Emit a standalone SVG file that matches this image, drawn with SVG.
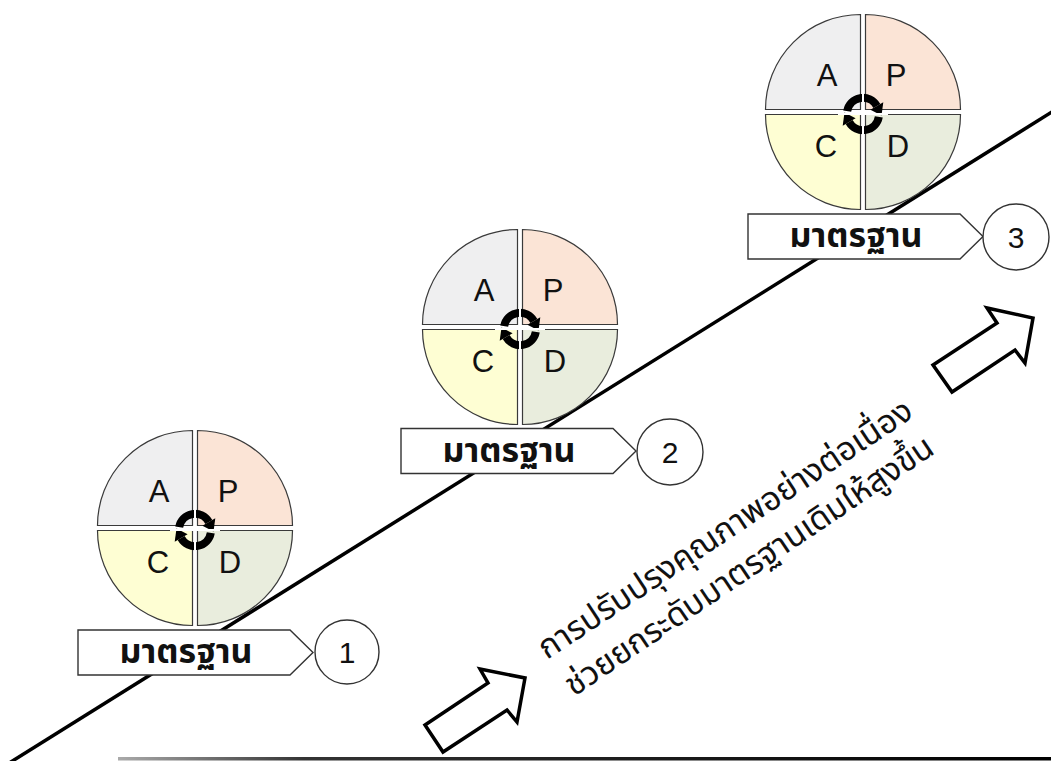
<svg xmlns="http://www.w3.org/2000/svg" xmlns:xlink="http://www.w3.org/1999/xlink" width="1051" height="761" viewBox="0 0 1051 761">
  <style>
    .q { stroke: #3a3a3a; stroke-width: 1.2; }
    .qa { fill: #efeff0; }
    .qp { fill: #fbe4d6; }
    .qc { fill: #fefed3; }
    .qd { fill: #e9eddd; }
    .letter { font-family: "Liberation Sans", Arial, sans-serif; font-size: 31px; fill: #111; text-anchor: middle; }
    .tag { fill: #fff; stroke: #333; stroke-width: 1.4; }
    .tag-text { font-family: "Noto Sans Thai", Tahoma, "Noto Sans", "DejaVu Sans", sans-serif; font-size: 34px; font-weight: bold; fill: #111; text-anchor: middle; }
    .num-ring { fill: #fff; stroke: #333; stroke-width: 1.4; }
    .num { font-family: "Liberation Sans", Arial, sans-serif; font-size: 30px; fill: #111; text-anchor: middle; }
    .slope { stroke: #000; stroke-width: 3.5; fill: none; }
    .block-arrow { fill: #fff; stroke: #000; stroke-width: 3.5; stroke-linejoin: miter; }
    .note { font-family: "Noto Sans Thai", Tahoma, "Noto Sans", "DejaVu Sans", sans-serif; font-size: 33px; fill: #111; }
  </style>
  <defs>
    <linearGradient id="baseGrad" x1="0" y1="0" x2="1" y2="0">
      <stop offset="0" stop-color="#aaa"/>
      <stop offset="0.2" stop-color="#333"/>
      <stop offset="1" stop-color="#000"/>
    </linearGradient>
    <!-- four PDCA quadrants, split by a narrow white cross -->
    <g id="wheel">
      <path class="q qa" d="M -2.5,-2.5 H -97.5 A 95 95 0 0 1 -2.5,-97.5 Z"/>
      <path class="q qp" d="M 2.5,-2.5 V -97.5 A 95 95 0 0 1 97.5,-2.5 Z"/>
      <path class="q qd" d="M 2.5,2.5 H 97.5 A 95 95 0 0 1 2.5,97.5 Z"/>
      <path class="q qc" d="M -2.5,2.5 V 97.5 A 95 95 0 0 1 -97.5,2.5 Z"/>
    </g>
    <!-- circular arrows in the hub -->
    <g id="cycle">
      <path d="M -15.8,-2.8 A 16 16 0 0 1 13.9,-8" fill="none" stroke="#000" stroke-width="8"/>
      <polygon points="20.3,-11.7 7.4,-4.3 18.5,1.5" fill="#000"/>
      <path d="M 15.8,2.8 A 16 16 0 0 1 -13.9,8" fill="none" stroke="#000" stroke-width="8"/>
      <polygon points="-20.3,11.7 -7.4,4.3 -18.5,-1.5" fill="#000"/>
      <line x1="0" y1="-25" x2="0" y2="25" stroke="#fff" stroke-width="2"/>
      <line x1="-25" y1="0" x2="25" y2="0" stroke="#fff" stroke-width="2"/>
    </g>
    <polygon id="tagShape" points="0,0 212,0 235,22.5 212,45 0,45"/>
  </defs>

  <!-- staircase slope and base line -->
  <g id="connectors">
    <line class="slope" x1="6" y1="765" x2="1055" y2="110"/>
    <rect x="118" y="757" width="933" height="3.5" fill="url(#baseGrad)"/>
  </g>

  <!-- PDCA wheel 1 -->
  <g id="pdca-1" transform="translate(195,528)">
    <use href="#wheel"/>
    <text class="letter" x="-36" y="-26">A</text>
    <text class="letter" x="33" y="-26">P</text>
    <text class="letter" x="-37" y="45">C</text>
    <text class="letter" x="35" y="45">D</text>
    <use href="#cycle" y="2"/>
  </g>

  <!-- PDCA wheel 2 -->
  <g id="pdca-2" transform="translate(520,327)">
    <use href="#wheel"/>
    <text class="letter" x="-36" y="-26">A</text>
    <text class="letter" x="33" y="-26">P</text>
    <text class="letter" x="-37" y="45">C</text>
    <text class="letter" x="35" y="45">D</text>
    <use href="#cycle" y="2"/>
  </g>

  <!-- PDCA wheel 3 -->
  <g id="pdca-3" transform="translate(863,112)">
    <use href="#wheel"/>
    <text class="letter" x="-36" y="-26">A</text>
    <text class="letter" x="33" y="-26">P</text>
    <text class="letter" x="-37" y="45">C</text>
    <text class="letter" x="35" y="45">D</text>
    <use href="#cycle" y="2"/>
  </g>

  <!-- standard tags -->
  <g id="standard-1">
    <use href="#tagShape" class="tag" x="78" y="630"/>
    <text class="tag-text" x="186" y="663">มาตรฐาน</text>
  </g>
  <g id="standard-2">
    <use href="#tagShape" class="tag" x="401" y="428.5"/>
    <text class="tag-text" x="509" y="461.5">มาตรฐาน</text>
  </g>
  <g id="standard-3">
    <use href="#tagShape" class="tag" x="748" y="214"/>
    <text class="tag-text" x="856" y="247">มาตรฐาน</text>
  </g>

  <!-- level numbers -->
  <g id="level-1">
    <circle class="num-ring" cx="347" cy="652" r="32"/>
    <text class="num" x="347" y="663">1</text>
  </g>
  <g id="level-2">
    <circle class="num-ring" cx="670" cy="452" r="33"/>
    <text class="num" x="670" y="463">2</text>
  </g>
  <g id="level-3">
    <circle class="num-ring" cx="1016" cy="237" r="33"/>
    <text class="num" x="1016" y="248">3</text>
  </g>

  <!-- upward block arrows -->
  <g id="arrow-low">
    <polygon class="block-arrow" points="425,725 488,683 480,669 525,678 517,722 507,710 443,752"/>
  </g>
  <g id="arrow-high">
    <polygon class="block-arrow" points="933,365 997,323 987,308 1033,318 1025,363 1015,350 952,392"/>
  </g>

  <!-- caption along the slope -->
  <g id="caption">
    <text class="note" transform="translate(547,660) rotate(-33.5)">การปรับปรุงคุณภาพอย่างต่อเนื่อง</text>
    <text class="note" transform="translate(574,697) rotate(-34)">ช่วยยกระดับมาตรฐานเดิมให้สูงขึ้น</text>
  </g>
</svg>
